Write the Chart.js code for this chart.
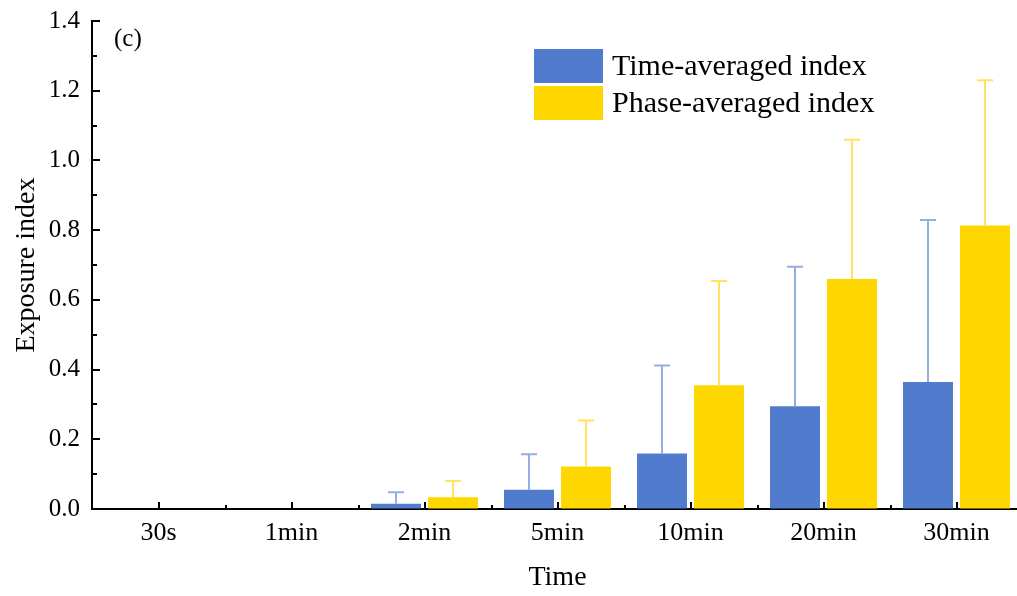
<!DOCTYPE html>
<html>
<head>
<meta charset="utf-8">
<script src="https://cdn.jsdelivr.net/npm/chart.js@4.4.1/dist/chart.umd.min.js"></script>
<style>
  html, body { margin: 0; padding: 0; background: #fff; overflow: hidden; }
  #wrap { width: 1024px; height: 596px; }
</style>
</head>
<body>
<div id="wrap"><canvas id="exposure" width="1024" height="596"></canvas></div>
<script>
// data
const categories = ['30s', '1min', '2min', '5min', '10min', '20min', '30min'];
const timeAveraged = [0, 0, 0.015, 0.055, 0.159, 0.295, 0.364];
const timeAveragedErr = [0, 0, 0.033, 0.102, 0.253, 0.400, 0.465];
const phaseAveraged = [0, 0, 0.034, 0.122, 0.355, 0.660, 0.813];
const phaseAveragedErr = [0, 0, 0.046, 0.132, 0.299, 0.399, 0.417];
const seriesNames = ['Time-averaged index', 'Phase-averaged index'];

const serif = "'Liberation Serif', 'Times New Roman', serif";

// upper error bars, inward ticks, legend box and panel label
const extras = {
    id: 'extras',
    afterDatasetsDraw(chart) {
        const ctx = chart.ctx;
        const y = chart.scales.y;
        chart.data.datasets.forEach(function(ds, i) {
            const meta = chart.getDatasetMeta(i);
            ctx.save();
            ctx.strokeStyle = ds.errColor;
            ctx.lineWidth = 2;
            meta.data.forEach(function(bar, j) {
                const v = ds.data[j], e = ds.err[j];
                if (!e) return;
                const top = y.getPixelForValue(v + e);
                const base = y.getPixelForValue(v);
                ctx.beginPath();
                ctx.moveTo(bar.x, base);
                ctx.lineTo(bar.x, top);
                ctx.moveTo(bar.x - 8, top);
                ctx.lineTo(bar.x + 8, top);
                ctx.stroke();
            });
            ctx.restore();
        });
    },
    afterDraw(chart) {
        const ctx = chart.ctx;
        const area = chart.chartArea;
        const x = chart.scales.x;
        const y = chart.scales.y;
        ctx.save();
        ctx.strokeStyle = '#000';
        ctx.lineWidth = 2;
        ctx.beginPath();
        // y ticks, pointing into the plot
        for (let k = 0; k <= 14; k++) {
            const py = Math.round(y.getPixelForValue(k / 10));
            ctx.moveTo(area.left, py);
            ctx.lineTo(area.left + (k % 2 === 0 ? 8 : 5), py);
        }
        // x ticks at category centres and borders
        categories.forEach(function(c, j) {
            const px = Math.round(x.getPixelForValue(j));
            ctx.moveTo(px, area.bottom);
            ctx.lineTo(px, area.bottom - 7);
            const half = (x.getPixelForValue(1) - x.getPixelForValue(0)) / 2;
            const bx = Math.round(px + half);
            ctx.moveTo(bx, area.bottom);
            ctx.lineTo(bx, area.bottom - 4);
        });
        ctx.stroke();

        // legend
        const lx = 534, ly = 49, bw = 69, bh = 34, gap = 3;
        ctx.font = '30px ' + serif;
        ctx.textBaseline = 'middle';
        chart.data.datasets.forEach(function(ds, i) {
            const top = ly + i * (bh + gap);
            ctx.fillStyle = ds.backgroundColor;
            ctx.fillRect(lx, top, bw, bh);
            ctx.fillStyle = '#000';
            ctx.fillText(ds.label, lx + bw + 9, top + bh / 2 + 1);
        });

        // panel label
        ctx.font = '25px ' + serif;
        ctx.fillText('(c)', 114, 39);
        ctx.restore();
    }
};

new Chart(document.getElementById('exposure'), {
    type: 'bar',
    data: {
        labels: categories,
        datasets: [{
            label: seriesNames[0],
            data: timeAveraged,
            err: timeAveragedErr,
            backgroundColor: '#517bcd',
            errColor: '#94ade6',
            categoryPercentage: 0.857,
            barPercentage: 0.877
        }, {
            label: seriesNames[1],
            data: phaseAveraged,
            err: phaseAveragedErr,
            backgroundColor: '#ffd700',
            errColor: '#ffe35e',
            categoryPercentage: 0.857,
            barPercentage: 0.877
        }]
    },
    options: {
        responsive: false,
        animation: false,
        layout: { padding: { top: 21, right: 1, left: 0, bottom: 0 } },
        plugins: {
            legend: { display: false },
            tooltip: { enabled: false }
        },
        scales: {
            x: {
                grid: { display: true, drawOnChartArea: false, drawTicks: false },
                border: { display: true, color: '#000', width: 2 },
                ticks: { color: '#000', padding: 9, font: { family: serif, size: 26 } },
                title: {
                    display: true, text: 'Time', color: '#000',
                    font: { family: serif, size: 28 }, padding: { top: 0, bottom: 2 }
                },
                afterFit(scale) {
                    scale.height = 87;
                    scale.paddingLeft = 0;
                    scale.paddingRight = 0;
                }
            },
            y: {
                min: 0,
                max: 1.4,
                grid: { display: true, drawOnChartArea: false, drawTicks: false },
                border: { display: true, color: '#000', width: 2 },
                ticks: {
                    stepSize: 0.2, color: '#000', padding: 12,
                    font: { family: serif, size: 25 },
                    callback: function(v) { return v.toFixed(1); }
                },
                title: {
                    display: true, text: 'Exposure index', color: '#000',
                    font: { family: serif, size: 28 }, padding: { top: 10, bottom: 0 }
                },
                afterFit(scale) {
                    scale.width = 92;
                    scale.paddingTop = 0;
                    scale.paddingBottom = 0;
                }
            }
        }
    },
    plugins: [extras]
});
</script>
</body>
</html>
